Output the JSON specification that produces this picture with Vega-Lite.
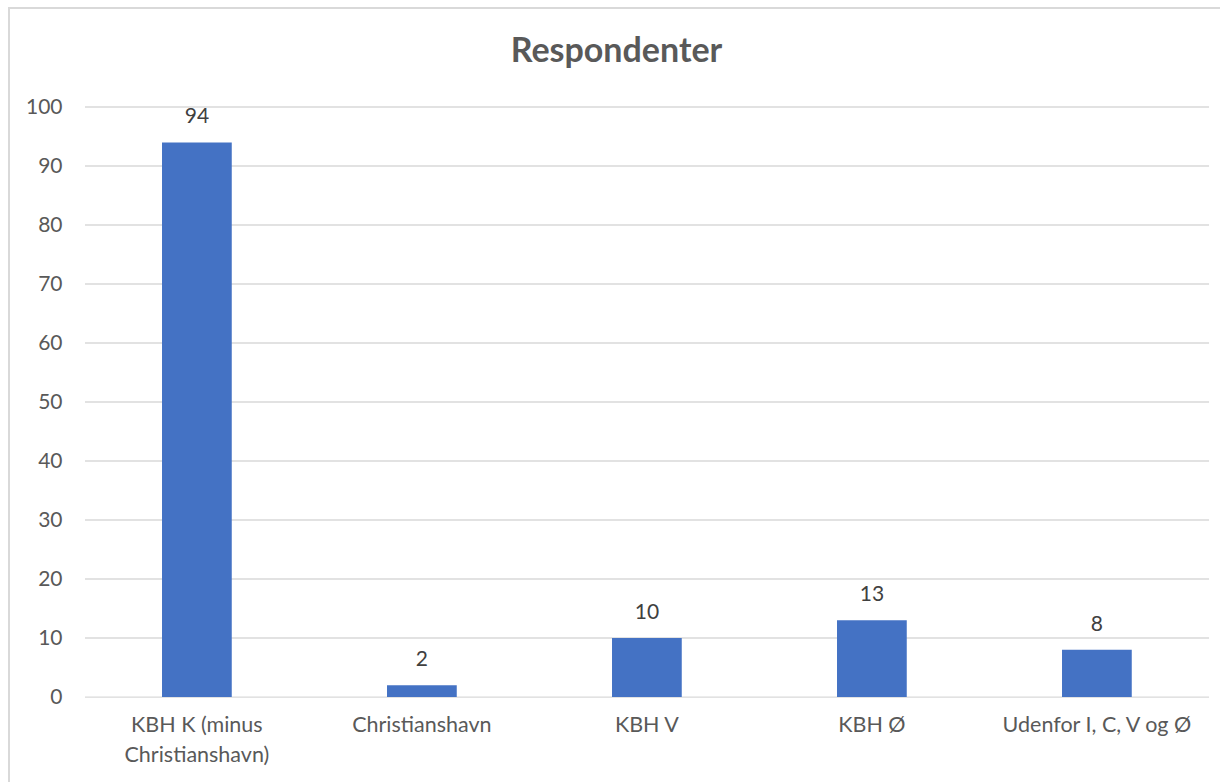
{
  "$schema": "https://vega.github.io/schema/vega-lite/v6.json",
  "autosize": {"type": "none"},
  "padding": {"left": 9, "top": 8, "right": 0, "bottom": 0},
  "width": 1215,
  "height": 778,
  "background": "white",
  "config": {
    "view": {"stroke": "#d9d9d9", "strokeWidth": 2},
    "font": "Lato"
  },
  "title": {
    "text": "Respondenter",
    "font": "Lato",
    "fontSize": 34,
    "fontWeight": "bold",
    "color": "#595959",
    "anchor": "middle",
    "baseline": "alphabetic",
    "offset": -88
  },
  "datasets": {
    "bars": [
      {"omrade": "KBH K (minus Christianshavn)", "antal": 94},
      {"omrade": "Christianshavn", "antal": 2},
      {"omrade": "KBH V", "antal": 10},
      {"omrade": "KBH Ø", "antal": 13},
      {"omrade": "Udenfor I, C, V og Ø", "antal": 8}
    ],
    "grid": [
      {"tick": 0}, {"tick": 10}, {"tick": 20}, {"tick": 30}, {"tick": 40},
      {"tick": 50}, {"tick": 60}, {"tick": 70}, {"tick": 80}, {"tick": 90}, {"tick": 100}
    ]
  },
  "layer": [
    {
      "data": {"name": "grid"},
      "mark": {"type": "rule", "color": "#d9d9d9", "strokeWidth": 1.3},
      "encoding": {
        "x": {
          "datum": "KBH K (minus Christianshavn)",
          "type": "nominal",
          "bandPosition": -1.104,
          "scale": {
            "domain": ["KBH K (minus Christianshavn)", "Christianshavn", "KBH V", "KBH Ø", "Udenfor I, C, V og Ø"],
            "paddingInner": 0.69, "paddingOuter": 0.545, "align": 0.6239
          },
          "axis": {
            "title": null,
            "orient": "bottom",
            "offset": -89,
            "domain": false,
            "ticks": false,
            "bandPosition": 0.5,
            "labelAlign": "center",
            "labelAngle": 0,
            "labelPadding": 17,
            "labelFontSize": 21.5,
            "labelFont": "Lato",
            "labelColor": "#595959",
            "labelLineHeight": 30,
            "labelLimit": 300,
            "labelExpr": "datum.label == 'KBH K (minus Christianshavn)' ? ['KBH K (minus', 'Christianshavn)'] : datum.label"
          }
        },
        "x2": {"datum": "Udenfor I, C, V og Ø", "bandPosition": 2.108},
        "y": {
          "field": "tick",
          "type": "quantitative",
          "scale": {"domain": [-15.08, 116.78], "nice": false, "zero": false},
          "axis": {
            "title": null,
            "orient": "left",
            "offset": -76,
            "domain": false,
            "ticks": false,
            "grid": false,
            "values": [0, 10, 20, 30, 40, 50, 60, 70, 80, 90, 100],
            "labelPadding": 23,
            "labelFontSize": 21,
            "labelFont": "Lato",
            "labelColor": "#595959"
          }
        }
      }
    },
    {
      "data": {"name": "bars"},
      "mark": {"type": "bar", "color": "#4472C4"},
      "encoding": {
        "x": {"field": "omrade", "type": "nominal", "sort": null},
        "y": {"field": "antal", "type": "quantitative"}
      }
    },
    {
      "data": {"name": "bars"},
      "mark": {"type": "text", "baseline": "alphabetic", "dy": -19, "fontSize": 21, "font": "Lato", "color": "#404040"},
      "encoding": {
        "x": {"field": "omrade", "type": "nominal", "sort": null},
        "y": {"field": "antal", "type": "quantitative"},
        "text": {"field": "antal", "type": "quantitative"}
      }
    }
  ]
}
